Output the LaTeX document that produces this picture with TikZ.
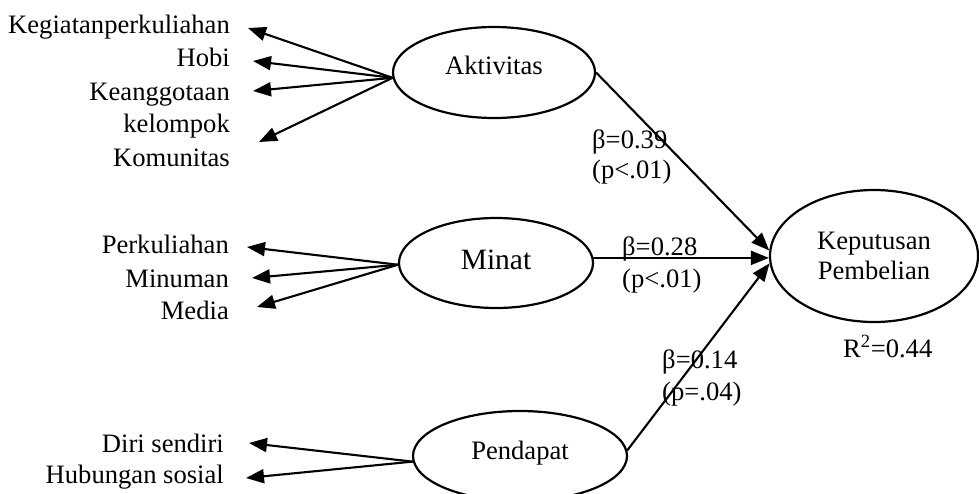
\documentclass[tikz,border=0pt]{standalone}
\usepackage{fontspec}
\setmainfont{Liberation Serif}
\usetikzlibrary{arrows.meta,shapes.geometric}
\begin{document}
\begin{tikzpicture}[x=1pt,y=-1pt,
  ell/.style={draw, ellipse, line width=2.2pt, inner sep=0pt, font=\fontsize{26.6}{30}\selectfont},
  lbl/.style={inner sep=0pt, font=\fontsize{26.6}{30}\selectfont},
  arr/.style={line width=2.1pt, -{Triangle[length=18pt,width=14pt]}}]
\useasboundingbox (0,0) rectangle (979,493);

% latent variables
\node[ell, minimum width=202pt, minimum height=91pt, text height=18pt, text depth=15pt] (akt) at (494,72.5) {Aktivitas};
\node[ell, minimum width=194pt, minimum height=90pt, text height=20pt, text depth=8pt, font=\fontsize{29.5}{33}\selectfont] (min) at (496,263) {Minat};
\node[ell, minimum width=214pt, minimum height=90pt, text height=18pt, text depth=12pt] (pend) at (520,456) {Pendapat};
\node[ell, minimum width=208pt, minimum height=132pt, align=center] (kep) at (874,256) {Keputusan\\Pembelian};

% indicator labels
\node[lbl, anchor=base east] (k1) at (230,33) {Kegiatanperkuliahan};
\node[lbl, anchor=base east] (k2) at (230,66) {Hobi};
\node[lbl, anchor=base east] (k3) at (230,100) {Keanggotaan};
\node[lbl, anchor=base east] (k4) at (230,132) {kelompok};
\node[lbl, anchor=base east] (k5) at (230,166) {Komunitas};
\node[lbl, anchor=base east] (m1) at (229,253) {Perkuliahan};
\node[lbl, anchor=base east] (m2) at (229,287) {Minuman};
\node[lbl, anchor=base east] (m3) at (229,319) {Media};
\node[lbl, anchor=base east] (p1) at (224,452) {Diri sendiri};
\node[lbl, anchor=base east] (p2) at (224,483) {Hubungan sosial};

% arrow tips near indicators
\coordinate (t1) at (248,28);
\coordinate (t2) at (253,61);
\coordinate (t3) at (253,91);
\coordinate (t4) at (259,142);
\coordinate (u1) at (247,247);
\coordinate (u2) at (252,278);
\coordinate (u3) at (257,307);
\coordinate (v1) at (249,443);
\coordinate (v2) at (246,478);

\foreach \t in {t1,t2,t3,t4} \draw[arr] (akt.183) -- (\t);
\foreach \t in {u1,u2,u3} \draw[arr] (min.181) -- (\t);
\foreach \t in {v1,v2} \draw[arr] (pend.183) -- (\t);

% structural paths
\draw[arr] (akt.east) -- (kep.177);
\draw[arr] (min.3) -- (min.3 -| kep.west);
\draw[arr] (pend.3) -- (kep.184);

% coefficients
\node[lbl, anchor=base west] (b1) at (592,148) {β=0.39};
\node[lbl, anchor=base west] (b1p) at (592,178) {(p<.01)};
\node[lbl, anchor=base west] (b2) at (622,255) {β=0.28};
\node[lbl, anchor=base west] (b2p) at (622,287) {(p<.01)};
\node[lbl, anchor=base west] (b3) at (662,368) {β=0.14};
\node[lbl, anchor=base west] (b3p) at (662,400) {(p=.04)};
\node[lbl, anchor=base west] (r2) at (843,357) {R\textsuperscript{2}=0.44};
\end{tikzpicture}
\end{document}
